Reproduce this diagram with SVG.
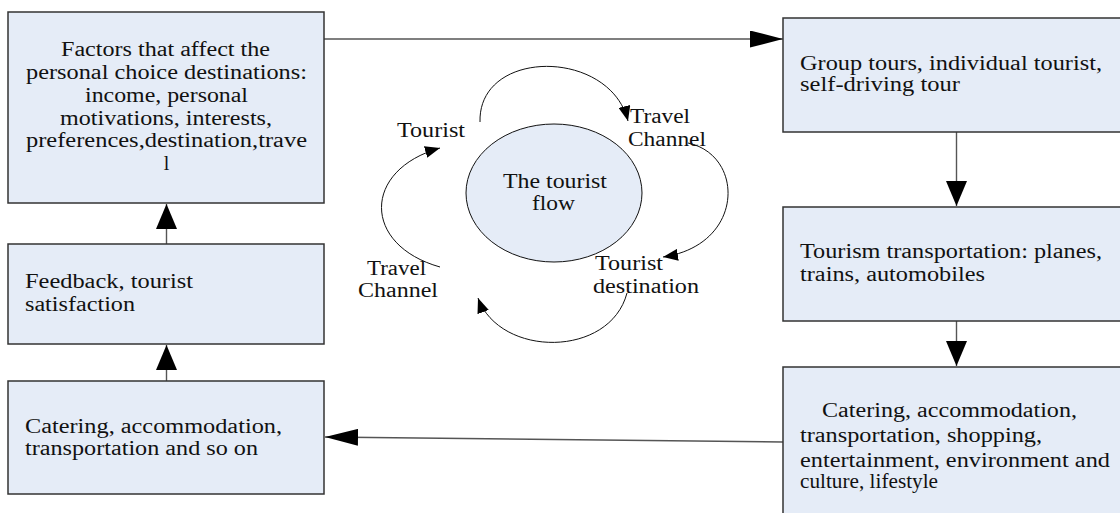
<svg xmlns="http://www.w3.org/2000/svg" width="1120" height="513" viewBox="0 0 1120 513">
<style>
.box{fill:#E5ECF7;stroke:#333;stroke-width:1.5}
.t{font-family:'Liberation Serif','Times New Roman',serif;font-size:20px;fill:#111}
.m{text-anchor:middle}
.con{fill:none;stroke:#555;stroke-width:1.4}
.arc{fill:none;stroke:#111;stroke-width:1}
</style>
<defs>
<marker id="big" markerUnits="userSpaceOnUse" viewBox="0 0 25 21" refX="25" refY="10.5" markerWidth="25" markerHeight="21" orient="auto"><path d="M0,0 L25,10.5 L0,21 Z" fill="#000"/></marker>
<marker id="long" markerUnits="userSpaceOnUse" viewBox="0 0 33 17" refX="33" refY="8.5" markerWidth="33" markerHeight="17" orient="auto"><path d="M0,0 L33,8.5 L0,17 Z" fill="#000"/></marker>
<marker id="sm" markerUnits="userSpaceOnUse" viewBox="0 0 15 12" refX="15" refY="6" markerWidth="15" markerHeight="12" orient="auto"><path d="M0,0 L15,6 L0,12 Z" fill="#000"/></marker>
</defs>

<g id="connectors">
<line class="con" x1="324" y1="39" x2="783" y2="39" marker-end="url(#long)"/>
<line class="con" x1="956.5" y1="132" x2="956.5" y2="206" marker-end="url(#big)"/>
<line class="con" x1="956.5" y1="321" x2="956.5" y2="366" marker-end="url(#big)"/>
<line class="con" x1="783" y1="442" x2="325" y2="437" marker-end="url(#long)"/>
<line class="con" x1="166.5" y1="381" x2="166.5" y2="345" marker-end="url(#big)"/>
<line class="con" x1="166.5" y1="244" x2="166.5" y2="204" marker-end="url(#big)"/>
<path class="arc" d="M480,122 C478,48 610,48 628,121" marker-end="url(#sm)"/>
<path class="arc" d="M688,143 C745,155 745,245 663,257" marker-end="url(#sm)"/>
<path class="arc" d="M627,293 C610,358 500,358 478,298" marker-end="url(#sm)"/>
<path class="arc" d="M440,267 C362,245 362,170 440,148" marker-end="url(#sm)"/>
</g>

<g id="factors">
<rect class="box" x="8" y="12" width="316" height="191"/>
<text class="t m" x="165.5" y="56" textLength="209" lengthAdjust="spacingAndGlyphs">Factors that affect the</text>
<text class="t m" x="166.5" y="79" textLength="281" lengthAdjust="spacingAndGlyphs">personal choice destinations:</text>
<text class="t m" x="166.5" y="102" textLength="163" lengthAdjust="spacingAndGlyphs">income, personal</text>
<text class="t m" x="166" y="125" textLength="212" lengthAdjust="spacingAndGlyphs">motivations, interests,</text>
<text class="t m" x="166.5" y="147" textLength="281" lengthAdjust="spacingAndGlyphs">preferences,destination,trave</text>
<text class="t m" x="166.5" y="170">l</text>
</g>

<g id="feedback">
<rect class="box" x="8" y="244" width="316" height="100"/>
<text class="t" x="25" y="288" textLength="168" lengthAdjust="spacingAndGlyphs">Feedback, tourist</text>
<text class="t" x="25" y="310.5" textLength="110" lengthAdjust="spacingAndGlyphs">satisfaction</text>
</g>

<g id="catering-left">
<rect class="box" x="8" y="381" width="316" height="113"/>
<text class="t" x="25" y="433" textLength="257" lengthAdjust="spacingAndGlyphs">Catering, accommodation,</text>
<text class="t" x="25" y="455" textLength="233" lengthAdjust="spacingAndGlyphs">transportation and so on</text>
</g>

<g id="group-tours">
<rect class="box" x="783" y="18" width="345" height="114"/>
<text class="t" x="800" y="70" textLength="302" lengthAdjust="spacingAndGlyphs">Group tours, individual tourist,</text>
<text class="t" x="800" y="91" textLength="160" lengthAdjust="spacingAndGlyphs">self-driving tour</text>
</g>

<g id="transportation">
<rect class="box" x="783" y="207" width="345" height="114"/>
<text class="t" x="800" y="258" textLength="302" lengthAdjust="spacingAndGlyphs">Tourism transportation: planes,</text>
<text class="t" x="800" y="281" textLength="185" lengthAdjust="spacingAndGlyphs">trains, automobiles</text>
</g>

<g id="catering-right">
<rect class="box" x="783" y="367" width="345" height="160"/>
<text class="t" x="822" y="417" textLength="255" lengthAdjust="spacingAndGlyphs">Catering, accommodation,</text>
<text class="t" x="800" y="441.5" textLength="242" lengthAdjust="spacingAndGlyphs">transportation, shopping,</text>
<text class="t" x="800" y="466.5" textLength="310" lengthAdjust="spacingAndGlyphs">entertainment, environment and</text>
<text class="t" x="800" y="488" textLength="138" lengthAdjust="spacingAndGlyphs">culture, lifestyle</text>
</g>

<g id="flow">
<ellipse cx="554" cy="193" rx="88" ry="69" fill="#E5ECF7" stroke="#111" stroke-width="1"/>
<text class="t" x="503" y="188" textLength="104" lengthAdjust="spacingAndGlyphs">The tourist</text>
<text class="t" x="532" y="210" textLength="43" lengthAdjust="spacingAndGlyphs">flow</text>
</g>

<g id="labels">
<text class="t" x="397" y="137" textLength="68" lengthAdjust="spacingAndGlyphs">Tourist</text>
<text class="t" x="630" y="123" textLength="60" lengthAdjust="spacingAndGlyphs">Travel</text>
<text class="t" x="628" y="146" textLength="78" lengthAdjust="spacingAndGlyphs">Channel</text>
<text class="t" x="367" y="275" textLength="59" lengthAdjust="spacingAndGlyphs">Travel</text>
<text class="t" x="358" y="297" textLength="80" lengthAdjust="spacingAndGlyphs">Channel</text>
<text class="t" x="595" y="270" textLength="68" lengthAdjust="spacingAndGlyphs">Tourist</text>
<text class="t" x="593" y="293" textLength="106" lengthAdjust="spacingAndGlyphs">destination</text>
</g>
</svg>
